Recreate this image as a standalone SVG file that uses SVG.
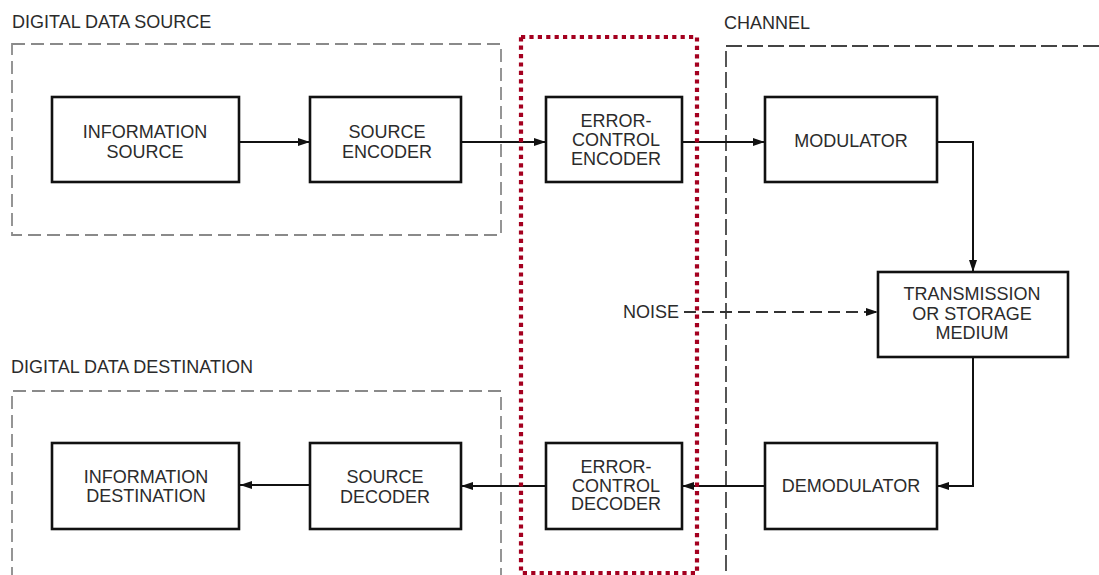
<svg xmlns="http://www.w3.org/2000/svg" width="1099" height="575" viewBox="0 0 1099 575">
<style>
text{font-family:"Liberation Sans",Arial,sans-serif;font-size:18px;fill:#2b2b2b}
.c{text-anchor:middle}
.box{fill:#fff;stroke:#111;stroke-width:2.6}
.grp{fill:none;stroke:#8a8a8a;stroke-width:1.8;stroke-dasharray:13 6}
.chan{fill:none;stroke:#444;stroke-width:1.8;stroke-dasharray:16 5}
.hl{fill:none;stroke:#a4001f;stroke-width:4.2;stroke-dasharray:4.2 4.2}
.ln{fill:none;stroke:#111;stroke-width:2}
.ns{fill:none;stroke:#333;stroke-width:2;stroke-dasharray:12 6}
</style>
<defs>
<marker id="ah" markerUnits="userSpaceOnUse" markerWidth="14" markerHeight="10" refX="12" refY="4" orient="auto">
<path d="M0,0 L12,4 L0,8 Z" fill="#111"/>
</marker>
</defs>
<rect width="1099" height="575" fill="#fff"/>
<g id="groups">
<rect class="grp" x="12" y="44" width="489" height="191"/>
<text x="12" y="28">DIGITAL DATA SOURCE</text>
<path class="grp" d="M12 580 V391 H501 V580"/>
<text x="11" y="373">DIGITAL DATA DESTINATION</text>
<path class="chan" d="M1099 46 H726 V580"/>
<text x="724" y="29">CHANNEL</text>
</g>
<g id="connectors">
<path class="ln" d="M239 142 H310" marker-end="url(#ah)"/>
<path class="ln" d="M461 142 H546" marker-end="url(#ah)"/>
<path class="ln" d="M682 142 H765" marker-end="url(#ah)"/>
<path class="ln" d="M937 142 H973 V272" marker-end="url(#ah)"/>
<path class="ns" d="M684 312 H878" marker-end="url(#ah)"/>
<path class="ln" d="M973 357 V486 H937" marker-end="url(#ah)"/>
<path class="ln" d="M765 486 H682" marker-end="url(#ah)"/>
<path class="ln" d="M546 486 H461" marker-end="url(#ah)"/>
<path class="ln" d="M310 485 H240" marker-end="url(#ah)"/>
</g>
<g id="info-source">
<rect class="box" x="52" y="97" width="187" height="85"/>
<text class="c" x="145" y="138">INFORMATION</text>
<text class="c" x="145" y="158">SOURCE</text>
</g>
<g id="source-encoder">
<rect class="box" x="310" y="97" width="151" height="85"/>
<text class="c" x="387" y="138">SOURCE</text>
<text class="c" x="387" y="158">ENCODER</text>
</g>
<g id="error-control-encoder">
<rect class="box" x="546" y="97" width="136" height="85"/>
<text class="c" x="616" y="127">ERROR-</text>
<text class="c" x="616" y="146">CONTROL</text>
<text class="c" x="616" y="165">ENCODER</text>
</g>
<g id="modulator">
<rect class="box" x="765" y="97" width="172" height="85"/>
<text class="c" x="851" y="147">MODULATOR</text>
</g>
<g id="noise">
<text x="623" y="318">NOISE</text>
</g>
<g id="transmission-medium">
<rect class="box" x="878" y="272" width="190" height="85"/>
<text class="c" x="972" y="300">TRANSMISSION</text>
<text class="c" x="972" y="320">OR STORAGE</text>
<text class="c" x="972" y="339">MEDIUM</text>
</g>
<g id="demodulator">
<rect class="box" x="765" y="443" width="172" height="86"/>
<text class="c" x="851" y="492">DEMODULATOR</text>
</g>
<g id="error-control-decoder">
<rect class="box" x="546" y="443" width="136" height="86"/>
<text class="c" x="616" y="473">ERROR-</text>
<text class="c" x="616" y="492">CONTROL</text>
<text class="c" x="616" y="510">DECODER</text>
</g>
<g id="source-decoder">
<rect class="box" x="310" y="443" width="151" height="86"/>
<text class="c" x="385" y="483">SOURCE</text>
<text class="c" x="385" y="503">DECODER</text>
</g>
<g id="info-destination">
<rect class="box" x="52" y="443" width="187" height="86"/>
<text class="c" x="146" y="483">INFORMATION</text>
<text class="c" x="146" y="502">DESTINATION</text>
</g>
<g id="highlight">
<rect class="hl" x="521" y="37" width="176" height="536"/>
</g>
</svg>
